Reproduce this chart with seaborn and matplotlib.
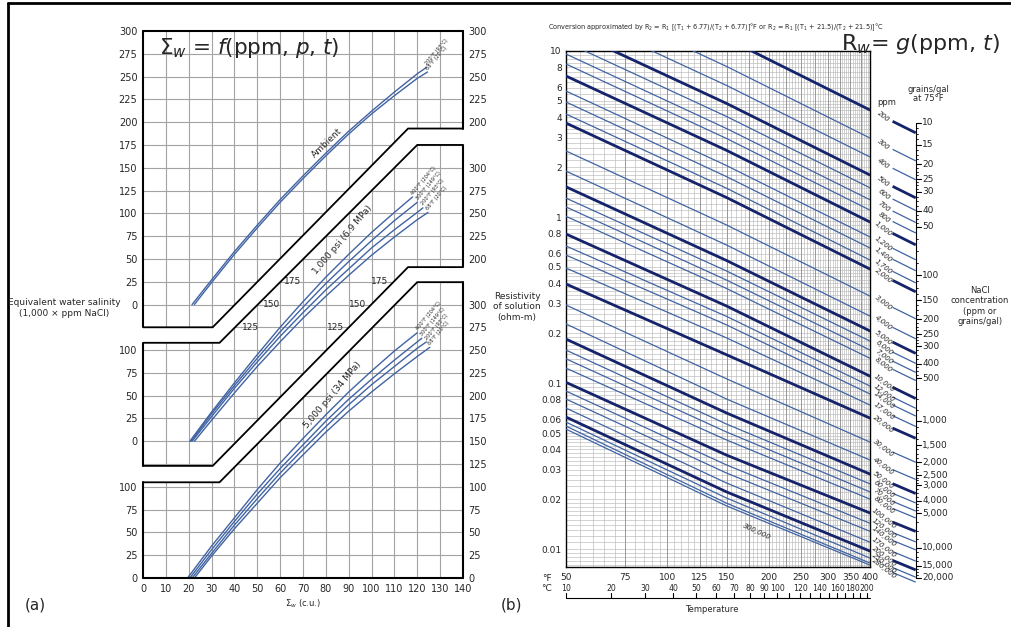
import numpy as np
import matplotlib
matplotlib.use("Agg")
import matplotlib.pyplot as plt
import seaborn as sns

sns.set_theme(style="white")
plt.rcParams['font.family'] = ['Liberation Sans Narrow', 'DejaVu Sans']
plt.rcParams['mathtext.fontset'] = 'dejavusans'

# ---------------- data: panel (a) Sigma_w vs salinity ----------------
sig10 = [30, 40, 50, 60, 70, 80, 90, 100, 110]
amb_sigma = [[21.5] + sig10 + [120, 124],
             [22.5] + sig10 + [120, 124.5]]
amb_sal = [[0, 27, 58, 87, 115, 141, 166, 190, 212, 233, 253, 260],
           [0, 24, 55, 84, 112, 138, 163, 187, 209, 229, 248, 255]]
amb_temps = ["200°F (93°C)", "68°F (20°C)"]

p1k_sigma = [[20.5] + sig10 + [118],
             [21] + sig10 + [120],
             [21.5] + sig10 + [120, 122.5],
             [22.5] + sig10 + [120, 124.7]]
p1k_sal = [[0, 32, 64, 95, 125, 153, 180, 205, 229, 251, 268],
           [0, 30, 61, 91, 120, 147, 173, 197, 220, 242, 262],
           [0, 27, 58, 87, 115, 141, 166, 189, 212, 232, 251, 256],
           [0, 23, 53, 82, 109, 135, 159, 182, 204, 224, 243, 251]]

p5k_sigma = [[19.5] + sig10 + [120],
             [20.5] + sig10 + [120, 122],
             [21.5] + sig10 + [120, 124],
             [22.5] + sig10 + [120, 125.5]]
p5k_sal = [[0, 35, 66, 97, 126, 153, 179, 204, 227, 249, 269],
           [0, 31, 62, 92, 120, 146, 172, 196, 218, 239, 259, 263],
           [0, 27, 58, 87, 115, 141, 166, 190, 212, 232, 252, 259],
           [0, 24, 54, 82, 110, 135, 160, 183, 204, 224, 243, 253]]
p_temps = ["400°F (204°C)", "300°F (149°C)", "200°F (93°C)", "68°F (20°C)"]

top_left_ticks = list(range(0, 301, 25))
low_left_ticks = list(range(0, 101, 25))
top_right_ticks = list(range(200, 301, 25))
mid_right_ticks = list(range(200, 301, 25))
bot_right_ticks = list(range(0, 301, 25))
band_labels = ["175", "150", "125"]
band_values = [175, 150, 125]
sigma_ticks = list(range(0, 141, 10))

# ---------------- data: panel (b) Rw vs temperature ----------------
ppm_vals = [200, 300, 400, 500, 600, 700, 800, 1000, 1200, 1400, 1700, 2000,
            3000, 4000, 5000, 6000, 7000, 8000, 10000, 12000, 14000, 17000,
            20000, 30000, 40000, 50000, 60000, 70000, 80000, 100000, 120000,
            140000, 170000, 200000, 250000, 280000, 300000]
thick_ppm = [200, 500, 1000, 2000, 5000, 10000, 20000, 50000, 100000, 200000]
temp_pts = [50, 150, 400]
r_50F = [33.4, 22.7, 17.4, 13.6, 11.3, 9.59, 8.35, 7.07, 5.74, 4.93, 4.17, 3.68,
         2.50, 1.89, 1.52, 1.30, 1.15, 1.01, 0.790, 0.669, 0.590, 0.493,
         0.395, 0.295, 0.227, 0.184, 0.158, 0.140, 0.123, 0.101, 0.0895,
         0.0801, 0.0707, 0.0624, 0.0582, 0.0551, 0.0528]
r_150F = [11.9, 8.07, 6.20, 4.83, 4.03, 3.41, 2.97, 2.52, 2.04, 1.75, 1.49, 1.31,
          0.895, 0.678, 0.547, 0.473, 0.417, 0.371, 0.291, 0.252, 0.224, 0.187,
          0.148, 0.106, 0.0801, 0.0660, 0.0566, 0.0507, 0.0454, 0.0368, 0.0321,
          0.0287, 0.0250, 0.0221, 0.0203, 0.0189, 0.0182]
r_400F = [4.41, 2.99, 2.30, 1.79, 1.50, 1.27, 1.10, 0.933, 0.758, 0.651, 0.551, 0.486,
          0.334, 0.253, 0.206, 0.179, 0.158, 0.141, 0.110, 0.0959, 0.0859, 0.0737,
          0.0615, 0.0441, 0.0344, 0.0283, 0.0247, 0.0221, 0.0200, 0.0165, 0.0143,
          0.0128, 0.0110, 0.00973, 0.00883, 0.00824, 0.00801]

r_ticks = [10, 8, 6, 5, 4, 3, 2, 1, 0.8, 0.6, 0.5, 0.4, 0.3, 0.2, 0.1, 0.08, 0.06,
           0.05, 0.04, 0.03, 0.02, 0.01]
f_ticks = [50, 75, 100, 125, 150, 200, 250, 300, 350, 400]
c_ticks = [10, 20, 30, 40, 50, 60, 70, 80, 90, 100, 120, 140, 160, 180, 200]
c_ruler = [10, 20, 30, 40, 50, 60, 70, 80, 90, 100, 110, 120, 130, 140, 150,
           160, 170, 180, 190, 200]

grain_vals = [10, 15, 20, 25, 30, 40, 50, 100, 150, 200, 250, 300, 400, 500,
              1000, 1500, 2000, 2500, 3000, 4000, 5000, 10000, 15000, 20000]
grain_r = [3.70, 2.72, 2.08, 1.69, 1.42, 1.087, 0.874, 0.447, 0.316, 0.242,
           0.197, 0.167, 0.131, 0.107, 0.0593, 0.0423, 0.0333, 0.0279, 0.0242,
           0.0195, 0.0164, 0.0102, 0.00793, 0.00671]

line_blue = "#4063a3"
dark_blue = "#15236a"
grid_gray = "#a3a3a3"

fig = plt.figure(figsize=(10.11, 6.27), dpi=100)

# =============== panel (a) ===============
axa = fig.add_axes([0.1414, 0.0781, 0.3165, 0.8725])
axa.set_xlim(0, 140)
axa.set_ylim(0, 600)
for s in axa.spines.values():
    s.set_visible(False)

axa.vlines(np.arange(10, 140, 10), 0, 600, color=grid_gray, lw=0.8, zorder=1)
axa.hlines(np.arange(25, 600, 25), 0, 140, color=grid_gray, lw=0.8, zorder=1)

top_low = ([0, 30.5, 116, 140], [275, 275, 493, 493])
mid_up = ([0, 33.5, 120, 140], [258, 258, 475, 475])
mid_low = ([0, 30.5, 116, 140], [123, 123, 341, 341])
bot_up = ([0, 33.5, 120, 140], [105, 105, 324.5, 324.5])
for a, b in [(top_low, mid_up), (mid_low, bot_up)]:
    axa.fill(a[0] + b[0][::-1], a[1] + b[1][::-1], color="white", zorder=2, lw=0)
for xs, ys in [top_low, mid_up, mid_low, bot_up]:
    axa.plot(xs, ys, color="black", lw=1.3, zorder=4, solid_joinstyle="miter")
edge_kw = dict(color="black", lw=1.5, zorder=4, clip_on=False)
axa.plot([0, 140], [600, 600], **edge_kw)
axa.plot([0, 140], [0, 0], **edge_kw)
for y0, y1 in [(275, 600), (123, 258), (0, 105)]:
    axa.plot([0, 0], [y0, y1], **edge_kw)
for y0, y1 in [(493, 600), (341, 475), (0, 324.5)]:
    axa.plot([140, 140], [y0, y1], **edge_kw)

groups = [(amb_sigma, amb_sal, 300, amb_temps),
          (p1k_sigma, p1k_sal, 150, p_temps),
          (p5k_sigma, p5k_sal, 0, p_temps)]
for sig, sal, off, temps in groups:
    for xs, ys, lab in zip(sig, sal, temps):
        sns.lineplot(x=xs, y=np.array(ys) + off, ax=axa, color=line_blue, lw=1.0,
                     sort=False, estimator=None, zorder=3)
        axa.text(xs[-1] + 0.6, ys[-1] + off + 1.5, lab, fontsize=3.6, rotation=50,
                 rotation_mode="anchor", ha="left", va="bottom", zorder=5)

axa.text(80.5, 477, "Ambient", fontsize=6.5, rotation=44, ha="center", va="center")
axa.text(87.5, 371, "1,000 psi (6.9 MPa)", fontsize=6.5, rotation=50, ha="center", va="center")
axa.text(83, 201, "5,000 psi (34 MPa)", fontsize=6.5, rotation=50, ha="center", va="center")
for lab, v in zip(band_labels, band_values):
    y = v + 150
    axa.text(65.6 - (175 - v) * 0.37, y, lab, fontsize=6.5, ha="center", va="center")
    axa.text(103.7 - (175 - v) * 0.39, y, lab, fontsize=6.5, ha="center", va="center")
axa.text(7, 581, r"$\mathit{\Sigma}_w$ = $f$(ppm, $p$, $t$)", fontsize=15.5, ha="left",
         va="center")

left_pos = [v + 300 for v in top_left_ticks] + [v + 150 for v in low_left_ticks] + low_left_ticks
left_lab = [str(v) for v in top_left_ticks] + [str(v) for v in low_left_ticks] * 2
axa.set_yticks(left_pos, left_lab)
axa.set_xticks(sigma_ticks, [str(v) for v in sigma_ticks])
axa.tick_params(axis="both", length=0, labelsize=7, pad=4)
axa.set_xlabel(r"$\Sigma_w$ (c.u.)", fontsize=6, labelpad=3)

axa_r = axa.twinx()
axa_r.set_ylim(0, 600)
for s in axa_r.spines.values():
    s.set_visible(False)
right_pos = [v + 300 for v in top_right_ticks] + [v + 150 for v in mid_right_ticks] + bot_right_ticks
right_lab = [str(v) for v in top_right_ticks + mid_right_ticks + bot_right_ticks]
axa_r.set_yticks(right_pos, right_lab)
axa_r.tick_params(axis="y", length=0, labelsize=7, pad=4)

fig.text(64 / 1011, 1 - 308 / 627, "Equivalent water salinity\n(1,000 × ppm NaCl)",
         fontsize=6.5, ha="center", va="center", linespacing=1.2)

# =============== panel (b) ===============
axb = fig.add_axes([0.5598, 0.0957, 0.3007, 0.823])
axb.set_xscale("log")
axb.set_yscale("log")
axb.set_xlim(50, 400)
axb.set_ylim(0.0078, 10)

minor_r = []
for dec in [0.001, 0.01, 0.1, 1]:
    minor_r += list(dec * np.arange(1, 2, 0.1)) + list(dec * np.arange(2, 5, 0.2)) + list(dec * np.arange(5, 10, 0.5))
axb.hlines(minor_r, 50, 400, color="#b9b9b9", lw=0.45, zorder=1)
axb.vlines(np.arange(55, 400, 5), 0.0078, 10, color="#b9b9b9", lw=0.45, zorder=1)
axb.vlines(np.arange(75, 400, 25), 0.0078, 10, color="#8f8f8f", lw=0.6, zorder=1)

for ppm, a, b, c in zip(ppm_vals, r_50F, r_150F, r_400F):
    thick = ppm in thick_ppm
    col = dark_blue if thick else line_blue
    lw = 2.0 if thick else 0.9
    sns.lineplot(x=temp_pts, y=[a, b, c], ax=axb, color=col, lw=lw, sort=False,
                 estimator=None, zorder=3)
    if ppm == 300000:
        continue
    slope = np.log(c / b) / np.log(400 / 150)
    t_seg = np.array([467, 547])
    axb.plot(t_seg, c * (t_seg / 400) ** slope, color=col, lw=lw, clip_on=False,
             solid_capstyle="butt")
    t_lab = 440
    lab = f"{ppm:,}"
    axb.text(t_lab, c * (t_lab / 400) ** slope, lab, fontsize=5.0, style="italic",
             rotation=-38, ha="center", va="center", clip_on=False)
axb.text(185, 0.0128, "300,000", fontsize=5.2, style="italic", rotation=-25,
         ha="center", va="center")

for s in axb.spines.values():
    s.set_color("black")
    s.set_linewidth(1.0)
axb.set_yticks(r_ticks, [f"{v:g}" for v in r_ticks])
axb.yaxis.set_minor_locator(matplotlib.ticker.NullLocator())
axb.xaxis.set_minor_locator(matplotlib.ticker.NullLocator())
axb.set_xticks(f_ticks, [str(v) for v in f_ticks])
axb.tick_params(axis="y", direction="in", length=4, width=0.8, labelsize=6.5, pad=3)
axb.tick_params(axis="x", direction="in", length=3, width=0.8, labelsize=6.5, pad=4)
xt = axb.get_xaxis_transform()
axb.text(45.5, -0.022, "°F", transform=xt, fontsize=6.5, ha="right", va="center")
for c in c_ticks:
    axb.text(c * 1.8 + 32, -0.042, str(c), transform=xt, fontsize=5.6, ha="center", va="center")
axb.text(45.5, -0.042, "°C", transform=xt, fontsize=6.5, ha="right", va="center")
axb.plot([50, 400], [-0.060, -0.060], transform=xt, color="black", lw=0.8, clip_on=False)
for c in c_ruler:
    axb.plot([c * 1.8 + 32] * 2, [-0.060, -0.051], transform=xt, color="black", lw=0.8, clip_on=False)
axb.text(np.sqrt(50 * 400) * 0.96, -0.082, "Temperature", transform=xt, fontsize=6,
         ha="center", va="center")

# grains/gal scale
axb.plot([547, 547], [grain_r[0], grain_r[-1]], color="black", lw=0.8, clip_on=False)
for g, r in zip(grain_vals, grain_r):
    axb.plot([547, 566], [r, r], color="black", lw=0.8, clip_on=False)
    axb.text(572, r, f"{g:,}", fontsize=6.5, ha="left", va="center", clip_on=False)
for r0, r1 in zip(grain_r[:-1], grain_r[1:]):
    for k in range(1, 4):
        rm = r0 * (r1 / r0) ** (k / 4)
        axb.plot([547, 556], [rm, rm], color="black", lw=0.6, clip_on=False)
axb.text(448, 4.9, "ppm", fontsize=6, ha="center", va="center", clip_on=False)

fig.text(928 / 1011, 1 - 94 / 627, "grains/gal\nat 75°F", fontsize=6, ha="center", va="center",
         linespacing=1.1)
fig.text(980 / 1011, 1 - 306 / 627, "NaCl\nconcentration\n(ppm or\ngrains/gal)", fontsize=6,
         ha="center", va="center", linespacing=1.15)
fig.text(517 / 1011, 1 - 307 / 627, "Resistivity\nof solution\n(ohm-m)", fontsize=6.5,
         ha="center", va="center", linespacing=1.15)
fig.text(548 / 1011, 1 - 27 / 627,
         r"Conversion approximated by R$_2$ = R$_1$ [(T$_1$ + 6.77)/(T$_2$ + 6.77)]°F or "
         r"R$_2$ = R$_1$ [(T$_1$ + 21.5)/(T$_2$ + 21.5)]°C",
         fontsize=4.7, ha="left", va="center")
fig.text(1000 / 1011, 1 - 44 / 627, r"$\mathrm{R}_w$= $g$(ppm, $t$)", fontsize=16,
         ha="right", va="center")

fig.text(35 / 1011, 1 - 605 / 627, "(a)", fontsize=11, ha="center", va="center")
fig.text(511 / 1011, 1 - 605 / 627, "(b)", fontsize=11, ha="center", va="center")

# outer frame
fig.add_artist(plt.Line2D([8 / 1011, 8 / 1011], [0, 1 - 3 / 627], transform=fig.transFigure,
                          color="black", lw=2))
fig.add_artist(plt.Line2D([8 / 1011, 1], [1 - 3 / 627, 1 - 3 / 627], transform=fig.transFigure,
                          color="black", lw=2))

fig.savefig("out.png", dpi=100)
